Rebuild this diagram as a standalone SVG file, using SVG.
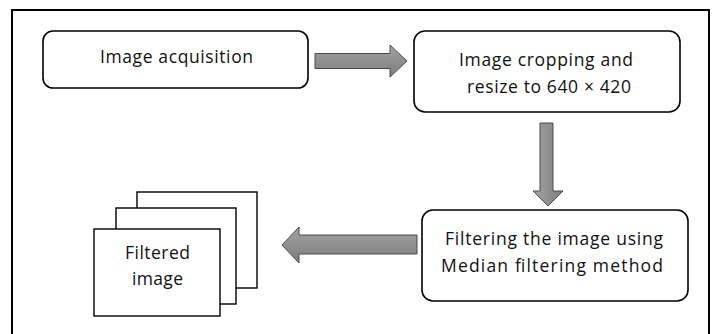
<svg xmlns="http://www.w3.org/2000/svg" width="718" height="334" viewBox="0 0 718 334">
<defs>
<linearGradient id="gh" x1="0" y1="0" x2="0" y2="1"><stop offset="0" stop-color="#a3a3a3"/><stop offset="1" stop-color="#7d7d7d"/></linearGradient>
<linearGradient id="gv" x1="0" y1="0" x2="1" y2="0"><stop offset="0" stop-color="#a3a3a3"/><stop offset="1" stop-color="#7d7d7d"/></linearGradient>
</defs>
<style>
.box{fill:#fff;stroke:#000;stroke-width:1.6}
.pg{fill:#fff;stroke:#000;stroke-width:1.4}
.t{font-family:"Open Sans","Liberation Sans",sans-serif;font-size:17.5px;fill:#111;text-anchor:middle}
.arr{stroke:#4a4a4a;stroke-width:1}
</style>
<rect x="12" y="10" width="697" height="330" fill="#fff" stroke="#000" stroke-width="2"/>
<g id="n1">
<rect class="box" x="43" y="31" width="265" height="57" rx="10"/>
<text class="t" x="176.5" y="63" textLength="153">Image acquisition</text>
</g>
<g id="n2">
<rect class="box" x="414" y="31" width="266" height="81" rx="11"/>
<text class="t" x="546" y="65.5" textLength="174">Image cropping and</text>
<text class="t" x="549" y="93" textLength="164">resize to 640 × 420</text>
</g>
<g id="n3">
<rect class="box" x="422" y="210" width="266" height="91" rx="11"/>
<text class="t" x="554" y="245" textLength="218">Filtering the image using</text>
<text class="t" x="552" y="272" textLength="222">Median filtering method</text>
</g>
<g id="n4">
<rect class="pg" x="137" y="192" width="120" height="96"/>
<rect class="pg" x="116" y="208" width="120" height="96"/>
<rect class="pg" x="94" y="229" width="126" height="87"/>
<text class="t" x="157.5" y="258.5" textLength="65">Filtered</text>
<text class="t" x="157.5" y="285" textLength="51">image</text>
</g>
<g id="connectors">
<polygon class="arr" fill="url(#gh)" points="315,53.5 390,53.5 390,45 407,61 390,77 390,68.5 315,68.5"/>
<polygon class="arr" fill="url(#gv)" points="540,123 553,123 553,191 563,191 548,206 533,191 540,191"/>
<polygon class="arr" fill="url(#gh)" points="417,235 299,235 299,227 282,245 299,263 299,254 417,254"/>
</g>
</svg>
